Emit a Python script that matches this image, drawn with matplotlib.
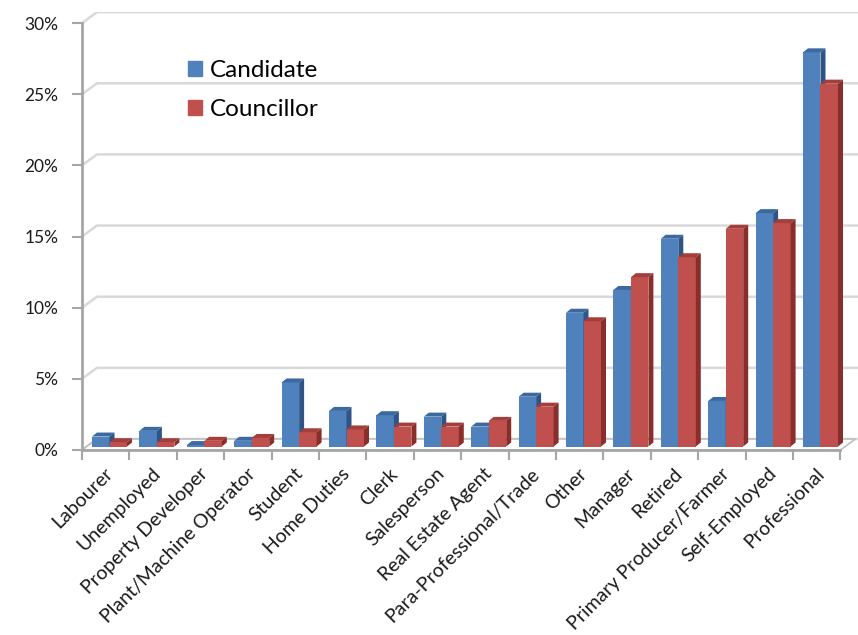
import numpy as np
import matplotlib.pyplot as plt
from matplotlib.patches import Polygon
from matplotlib.ticker import PercentFormatter

categories = ['Labourer', 'Unemployed', 'Property Developer', 'Plant/Machine Operator',
              'Student', 'Home Duties', 'Clerk', 'Salesperson', 'Real Estate Agent',
              'Para-Professional/Trade', 'Other', 'Manager', 'Retired',
              'Primary Producer/Farmer', 'Self-Employed', 'Professional']
candidate = [0.7, 1.1, 0.1, 0.4, 4.5, 2.5, 2.2, 2.1, 1.4, 3.5, 9.4, 11.0, 14.6, 3.2, 16.4, 27.7]
councillor = [0.3, 0.3, 0.4, 0.6, 1.0, 1.2, 1.4, 1.4, 1.8, 2.8, 8.8, 11.9, 13.3, 15.3, 15.7, 25.5]
yticks = [0, 5, 10, 15, 20, 25, 30]

# colours: front, top, side
blue = ('#4F81BD', '#3B6AA0', '#2F5587')
red = ('#C0504D', '#A43E3B', '#8A2E2C')

W, H = 858, 635
fig = plt.figure(figsize=(W / 100, H / 100), dpi=100)
plt.rcParams['font.family'] = ['Lato', 'DejaVu Sans']

x0, y0 = 82, 450          # pixel pos of origin (from top)
ppx = 47.4                # px per category
ppy = 14.23               # px per percent
xmax = (W - x0) / ppx
ymax = 30.8
ax = fig.add_axes([x0 / W, (H - y0) / H, (W - x0) / W, ymax * ppy / H])
ax.set_xlim(0, xmax)
ax.set_ylim(0, ymax)

# depth offsets in data units
wx, wy = 15 / ppx, 11 / ppy      # back wall
sx, sy = 5 / ppx, 3.5 / ppy      # bars pushed back
bx, by = 5 / ppx, 4 / ppy        # bar depth
bw = 17.5 / ppx                  # bar width
n = len(categories)

# floor
ax.add_patch(Polygon([(0, 0), (n, 0), (n + wx, wy), (wx, wy)], closed=True,
                     facecolor='white', edgecolor='#BFBFBF', lw=1.2, zorder=1))
# gridlines on back wall
for v in yticks:
    ax.plot([0, wx, xmax], [v, v + wy, v + wy], color='#D9D9D9', lw=1.8, zorder=0.5)


def bar3d(left, h, cols):
    b = sy
    ax.bar(left, h, width=bw, bottom=b, align='edge', color=cols[0], lw=0, zorder=2)
    top = [(left, b + h), (left + bx, b + h + by), (left + bw + bx, b + h + by), (left + bw, b + h)]
    side = [(left + bw, b), (left + bw + bx, b + by), (left + bw + bx, b + h + by), (left + bw, b + h)]
    ax.add_patch(Polygon(top, closed=True, facecolor=cols[1], lw=0, zorder=2))
    ax.add_patch(Polygon(side, closed=True, facecolor=cols[2], lw=0, zorder=2))


for i in range(n):
    bar3d(i + 5 / ppx + sx, candidate[i], blue)
    bar3d(i + 5 / ppx + sx + bw, councillor[i], red)

for s in ['top', 'right']:
    ax.spines[s].set_visible(False)
ax.spines['left'].set_color('#A6A6A6')
ax.spines['left'].set_linewidth(2)
ax.spines['left'].set_bounds(0, 30)
ax.spines['bottom'].set_color('#A6A6A6')
ax.spines['bottom'].set_linewidth(2)
ax.spines['bottom'].set_bounds(0, n)

ax.set_yticks(yticks)
ax.yaxis.set_major_formatter(PercentFormatter(decimals=0))
ax.tick_params(axis='y', direction='out', length=7, width=1.5, color='#A6A6A6',
               labelsize=12.5, pad=10, labelcolor='#1a1a1a')
ax.set_xticks(np.arange(n + 1))
ax.set_xticklabels([])
ax.tick_params(axis='x', direction='out', length=7, width=1.5, color='#A6A6A6')

for i, c in enumerate(categories):
    ax.text(i + 0.47, -1.05, c, rotation=45, ha='right', va='top', rotation_mode='anchor',
            fontsize=14, color='#1a1a1a', clip_on=False)

hb = plt.Rectangle((0, 0), 1, 1, color=blue[0])
hr = plt.Rectangle((0, 0), 1, 1, color=red[0])
fig.legend([hb, hr], ['Candidate', 'Councillor'], loc='upper left',
           bbox_to_anchor=(166 / W, 1 - 38 / H), frameon=False, fontsize=17.5,
           handlelength=0.6, handleheight=0.6, handletextpad=0.3, labelspacing=0.75)

fig.savefig('out.png', dpi=100)
